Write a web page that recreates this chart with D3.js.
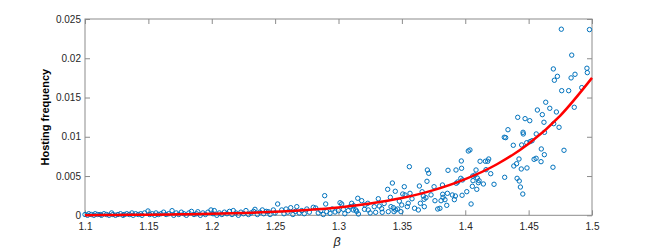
<!DOCTYPE html>
<html>
<head>
<meta charset="utf-8">
<script src="https://cdn.jsdelivr.net/npm/d3@7"></script>
<style>
  body { margin: 0; background: #fff; }
  text { font-family: "Liberation Sans", Arial, sans-serif; }
</style>
</head>
<body>
<div id="chart"></div>
<script>
var xTicks = [1.1, 1.15, 1.2, 1.25, 1.3, 1.35, 1.4, 1.45, 1.5];
var yTicks = [0, 0.005, 0.01, 0.015, 0.02, 0.025];

// fitted curve
var fitBeta = [1.10, 1.125, 1.15, 1.175, 1.20, 1.225, 1.25, 1.275, 1.30, 1.325, 1.35, 1.375, 1.40, 1.425, 1.45, 1.475, 1.50];
var fitFreq = [0.00002, 0.00005, 0.00008, 0.00013, 0.0002, 0.0003, 0.00045, 0.00068, 0.001, 0.0015, 0.0022, 0.0032, 0.0046, 0.0065, 0.0091, 0.0127, 0.0175];

// measured hosting frequency [beta, freq]
var scatterPts = [
  [1.100,0.0001],[1.102,0.0000],[1.103,0.0002],[1.105,0.0001],[1.107,0.0000],[1.108,0.0002],
  [1.110,0.0001],[1.112,0.0001],[1.113,0.0000],[1.115,0.0002],[1.117,0.0001],[1.119,0.0000],
  [1.121,0.0003],[1.122,0.0001],[1.124,0.0000],[1.126,0.0001],[1.128,0.0002],[1.130,0.0000],
  [1.131,0.0001],[1.133,0.0002],[1.135,0.0001],[1.137,0.0003],[1.138,0.0000],[1.140,0.0002],
  [1.142,0.0001],[1.144,0.0002],[1.145,0.0000],[1.147,0.0003],[1.1497,0.00055],[1.151,0.0001],
  [1.153,0.0002],[1.155,0.0000],[1.156,0.0003],[1.158,0.0001],[1.160,0.0002],[1.162,0.0004],
  [1.164,0.0001],[1.166,0.0002],[1.1687,0.00059],[1.170,0.0000],[1.172,0.0003],[1.174,0.0001],
  [1.176,0.0004],[1.178,0.0002],[1.180,0.0000],[1.182,0.0003],[1.184,0.0005],[1.186,0.0001],
  [1.188,0.0002],[1.189,0.00045],[1.191,0.0000],[1.193,0.0003],[1.195,0.0001],[1.197,0.0004],
  [1.1994,0.00068],[1.201,0.0002],[1.202,0.0006],[1.204,0.0000],[1.206,0.0003],[1.208,0.0001],
  [1.210,0.0004],[1.212,0.0002],[1.214,0.0005],[1.216,0.0001],[1.217,0.0006],[1.219,0.0003],
  [1.221,0.0000],[1.223,0.0004],[1.225,0.0002],[1.227,0.0006],[1.229,0.0001],[1.231,0.0003],
  [1.233,0.0005],[1.2341,0.00076],[1.236,0.0001],[1.238,0.0004],[1.2399,0.00068],[1.241,0.0002],
  [1.243,0.0005],[1.2446,0.00046],[1.246,0.0001],[1.2486,0.00068],[1.250,0.0003],[1.252,0.00144],
  [1.2552,0.00068],[1.257,0.0002],[1.2586,0.0008],[1.260,0.0004],[1.2623,0.00097],[1.264,0.0001],
  [1.266,0.0005],[1.2671,0.0011],[1.269,0.0003],[1.271,0.0006],[1.273,0.0002],[1.275,0.0008],
  [1.277,0.0004],[1.2801,0.00102],[1.282,0.00093],[1.284,0.0003],[1.286,0.0006],[1.288,0.0001],
  [1.2891,0.0025],[1.2899,0.00144],[1.2907,0.00046],[1.2933,0.00025],[1.295,0.0008],[1.2973,0.00042],
  [1.2999,0.00059],[1.3012,0.0016],[1.3025,0.00144],[1.3038,0.00076],[1.305,0.0002],[1.3077,0.00059],
  [1.3091,0.0011],[1.3104,0.00153],[1.3117,0.00068],[1.3120,0.00122],[1.3136,0.00068],[1.3143,0.00051],
  [1.3152,0.00217],[1.3157,0.00017],[1.3183,0.00186],[1.3209,0.00131],[1.3205,0.00076],[1.3231,0.00153],
  [1.3235,0.00068],[1.325,0.0003],[1.3282,0.0011],[1.3293,0.00038],[1.3314,0.00211],[1.3322,0.00118],
  [1.3341,0.00084],[1.3345,0.00038],[1.336,0.0015],[1.3388,0.00331],[1.3393,0.00046],[1.3409,0.00229],
  [1.3414,0.0011],[1.3425,0.00411],[1.3433,0.00097],[1.3438,0.00046],[1.3448,0.00306],[1.3451,0.00068],
  [1.3467,0.0008],[1.348,0.0018],[1.3493,0.00046],[1.3499,0.00131],[1.3507,0.00271],[1.3519,0.00364],
  [1.3525,0.00259],[1.3543,0.0011],[1.355,0.00153],[1.3559,0.00619],[1.3564,0.0028],[1.358,0.0021],
  [1.360,0.0009],[1.363,0.00068],[1.3638,0.00373],[1.3646,0.00153],[1.366,0.0030],[1.3669,0.00246],
  [1.3675,0.00204],[1.3677,0.0011],[1.369,0.00224],[1.3698,0.00433],[1.3701,0.00577],[1.3712,0.00535],
  [1.373,0.0026],[1.3754,0.00364],[1.3761,0.00186],[1.3783,0.0008],[1.380,0.00089],[1.3809,0.00186],
  [1.382,0.00386],[1.3822,0.00268],[1.3825,0.00229],[1.384,0.00199],[1.3854,0.00127],[1.3859,0.0028],
  [1.3864,0.00573],[1.3898,0.00259],[1.3914,0.00199],[1.3922,0.00246],[1.3927,0.00577],[1.3929,0.00408],
  [1.394,0.00424],[1.3965,0.00471],[1.3969,0.00692],[1.3971,0.00599],[1.3975,0.00255],[1.3978,0.0045],
  [1.4012,0.00301],[1.4024,0.00819],[1.4037,0.00832],[1.4046,0.00144],[1.4056,0.00369],[1.4059,0.005],
  [1.4061,0.00441],[1.4077,0.00513],[1.4085,0.00577],[1.4091,0.00331],[1.4095,0.00475],[1.4103,0.00415],
  [1.4109,0.00441],[1.4117,0.00688],[1.4143,0.00399],[1.4159,0.00688],[1.4164,0.00581],[1.4177,0.00688],
  [1.4185,0.00717],[1.4201,0.0053],[1.4227,0.00395],[1.4308,0.00994],[1.4311,0.00484],[1.4319,0.00989],
  [1.4337,0.0109],[1.4379,0.00892],[1.4383,0.00628],[1.4405,0.00657],[1.4409,0.00471],[1.4414,0.01248],
  [1.4424,0.00717],[1.4426,0.00437],[1.4435,0.0036],[1.4442,0.0059],[1.4445,0.00896],[1.4456,0.01057],
  [1.4454,0.00271],[1.4458,0.01036],[1.4472,0.01231],[1.4485,0.00925],[1.4487,0.00603],[1.4509,0.01205],
  [1.4511,0.00938],[1.4527,0.0095],[1.4543,0.00713],[1.4559,0.00726],[1.456,0.01036],[1.4569,0.01341],
  [1.4598,0.00683],[1.460,0.00845],[1.4608,0.01282],[1.4621,0.01185],[1.4625,0.01057],[1.4624,0.00772],
  [1.4635,0.0144],[1.4667,0.01363],[1.4695,0.01864],[1.4698,0.01167],[1.4692,0.00612],[1.4703,0.0172],
  [1.4719,0.01316],[1.4727,0.0177],[1.474,0.01121],[1.4758,0.0237],[1.4761,0.01587],[1.4779,0.00828],
  [1.4816,0.01587],[1.4835,0.0175],[1.484,0.0204],[1.486,0.01376],[1.4866,0.01796],[1.4919,0.01626],
  [1.496,0.01873],[1.4963,0.01817],[1.498,0.02365]
];

var width = 654, height = 248;
var plot = {left: 85, right: 592, top: 19, bottom: 215.3};
var axisColor = "#8c8c8c", labelColor = "#262626";

var svg = d3.select("#chart").append("svg")
  .attr("width", width)
  .attr("height", height);

svg.append("rect")
  .attr("width", width)
  .attr("height", height)
  .attr("fill", "#fff");

var x = d3.scaleLinear().domain([1.1, 1.5]).range([plot.left, plot.right]);
var y = d3.scaleLinear().domain([0, 0.025]).range([plot.bottom, plot.top]);

// box
svg.append("rect")
  .attr("x", plot.left)
  .attr("y", plot.top)
  .attr("width", plot.right - plot.left)
  .attr("height", plot.bottom - plot.top)
  .attr("fill", "none")
  .attr("stroke", axisColor)
  .attr("stroke-width", 1);

function styleAxis(g) {
  g.select(".domain").remove();
  g.selectAll(".tick line").attr("stroke", axisColor);
  g.selectAll(".tick text")
    .attr("fill", labelColor)
    .attr("font-size", "10px")
    .attr("font-family", '"Liberation Sans", Arial, sans-serif');
}

svg.append("g")
  .attr("transform", "translate(0," + plot.bottom + ")")
  .call(d3.axisBottom(x).tickValues(xTicks).tickSizeInner(-5).tickSizeOuter(0).tickPadding(8)
    .tickFormat(function(d){ return String(d); }))
  .call(styleAxis);

svg.append("g")
  .attr("transform", "translate(0," + plot.top + ")")
  .call(d3.axisTop(x).tickValues(xTicks).tickSizeInner(-5).tickSizeOuter(0).tickFormat(""))
  .call(styleAxis);

svg.append("g")
  .attr("transform", "translate(" + plot.left + ",0)")
  .call(d3.axisLeft(y).tickValues(yTicks).tickSizeInner(-5).tickSizeOuter(0).tickPadding(4)
    .tickFormat(function(d){ return String(d); }))
  .call(styleAxis);

svg.append("g")
  .attr("transform", "translate(" + plot.right + ",0)")
  .call(d3.axisRight(y).tickValues(yTicks).tickSizeInner(-5).tickSizeOuter(0).tickFormat(""))
  .call(styleAxis);

// scatter
svg.append("g")
  .selectAll("circle")
  .data(scatterPts)
  .enter()
  .append("circle")
  .attr("cx", function(d){ return x(d[0]); })
  .attr("cy", function(d){ return y(d[1]); })
  .attr("r", 2.2)
  .attr("fill", "none")
  .attr("stroke", "#0072BD")
  .attr("stroke-width", 1);

// fit line
var line = d3.line()
  .x(function(d, i){ return x(fitBeta[i]); })
  .y(function(d){ return y(d); })
  .curve(d3.curveMonotoneX);

svg.append("path")
  .datum(fitFreq)
  .attr("d", line)
  .attr("fill", "none")
  .attr("stroke", "#ff0000")
  .attr("stroke-width", 2.5);

// labels
svg.append("text")
  .text("Hosting frequency")
  .attr("transform", "translate(49," + ((plot.top + plot.bottom) / 2) + ") rotate(-90)")
  .attr("text-anchor", "middle")
  .attr("font-size", "11px")
  .attr("font-weight", "bold")
  .attr("fill", "#000");

svg.append("text")
  .text("β")
  .attr("x", 337)
  .attr("y", 245.5)
  .attr("text-anchor", "middle")
  .attr("font-size", "12.5px")
  .attr("font-style", "italic")
  .attr("fill", "#222");
</script>
</body>
</html>
